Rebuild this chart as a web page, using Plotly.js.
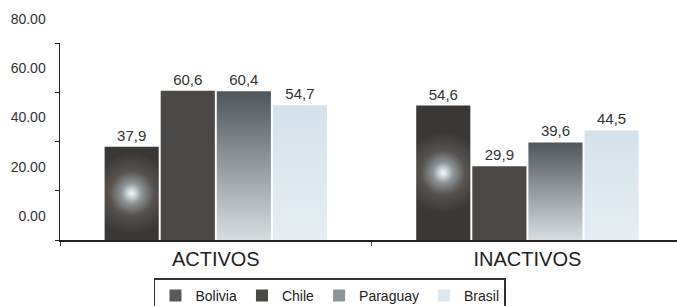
<!DOCTYPE html>
<html>
<head>
<meta charset="utf-8">
<script src="https://cdn.plot.ly/plotly-3.0.1.min.js"></script>
<style>
  html, body { margin: 0; padding: 0; background: #ffffff; }
  #chart { width: 677px; height: 306px; }
</style>
</head>
<body>
<div id="chart"></div>
<script>
// ---- data ----
const categories = ['ACTIVOS', 'INACTIVOS'];
const bolivia  = [37.9, 54.6];
const chile    = [60.6, 29.9];
const paraguay = [60.4, 39.6];
const brasil   = [54.7, 44.5];
const yTickVals  = [0, 20, 40, 60, 80];
const yTickText  = ['0.00', '20.00', '40.00', '60.00', '80.00'];

const textFont = { family: 'Arial, Liberation Sans, sans-serif', size: 15, color: '#333333' };

function barTrace(name, vals, color) {
  return {
    type: 'bar',
    name: name,
    x: categories,
    y: vals,
    marker: { color: color, line: { width: 0 } },
    texttemplate: '%{y:.1f}',
    textposition: 'outside',
    textfont: textFont,
    cliponaxis: false,
    hoverinfo: 'skip'
  };
}

const data = [
  barTrace('Bolivia', bolivia, '#5a5a5a'),
  barTrace('Chile', chile, '#4b4846'),
  barTrace('Paraguay', paraguay, '#8e9397'),
  barTrace('Brasil', brasil, '#dce7ef')
];

const layout = {
  width: 677,
  height: 306,
  margin: { l: 60, r: 0, t: 43, b: 66, pad: 0 },
  paper_bgcolor: '#ffffff',
  plot_bgcolor: '#ffffff',
  separators: ',.',
  barmode: 'group',
  bargap: 0.28,
  bargroupgap: 0.035,
  showlegend: true,
  font: { family: 'Arial, Liberation Sans, sans-serif', color: '#222222' },
  xaxis: {
    type: 'category',
    range: [-0.5, 1.48],
    showline: true,
    linecolor: '#222222',
    linewidth: 2,
    ticks: 'outside',
    tickson: 'boundaries',
    ticklen: 4,
    tickcolor: '#444444',
    showgrid: false,
    zeroline: false,
    tickfont: { family: 'Arial, Liberation Sans, sans-serif', size: 20, color: '#222222' },
    fixedrange: true
  },
  yaxis: {
    range: [0, 80],
    showline: true,
    linecolor: '#222222',
    linewidth: 1.5,
    ticks: 'outside',
    ticklen: 4,
    tickcolor: '#222222',
    tickvals: yTickVals,
    ticktext: yTickText,
    ticklabelshift: -24,
    ticklabelstandoff: 6,
    showgrid: false,
    zeroline: false,
    tickfont: { family: 'Arial, Liberation Sans, sans-serif', size: 14, color: '#333333' },
    fixedrange: true
  },
  legend: {
    orientation: 'h',
    x: 0.4376,
    xanchor: 'center',
    xref: 'paper',
    yref: 'container',
    y: 0.09,
    yanchor: 'top',
    bgcolor: '#ffffff',
    bordercolor: '#333333',
    borderwidth: 1.5,
    font: { family: 'Arial, Liberation Sans, sans-serif', size: 14, color: '#222222' },
    traceorder: 'normal'
  }
};

Plotly.newPlot('chart', data, layout, { displayModeBar: false, staticPlot: true }).then(function (gd) {
  const ns = 'http://www.w3.org/2000/svg';
  const svg = gd.querySelector('.main-svg');
  let defs = svg.querySelector('defs');
  if (!defs) { defs = document.createElementNS(ns, 'defs'); svg.insertBefore(defs, svg.firstChild); }

  function addGrad(tag, id, attrs, stops) {
    const g = document.createElementNS(ns, tag);
    g.setAttribute('id', id);
    Object.keys(attrs).forEach(k => g.setAttribute(k, attrs[k]));
    stops.forEach(s => {
      const st = document.createElementNS(ns, 'stop');
      st.setAttribute('offset', s[0]);
      st.setAttribute('stop-color', s[1]);
      g.appendChild(st);
    });
    defs.appendChild(g);
  }
  addGrad('linearGradient', 'gPar', { x1: '0', y1: '0', x2: '0', y2: '1' },
    [['0', '#4f565b'], ['0.45', '#8d9397'], ['1', '#d8dde0']]);
  addGrad('linearGradient', 'gBra', { x1: '0', y1: '0', x2: '0', y2: '1' },
    [['0', '#d5e1ea'], ['1', '#e6eef3']]);

  const traces = gd.querySelectorAll('.barlayer .trace');
  traces.forEach((t, i) => {
    t.querySelectorAll('path').forEach((p, j) => {
      if (i === 0) {
        // circular glow centred in each Bolivia bar, sized from the rendered bar
        const bb = p.getBBox();
        const id = 'gBol' + j;
        addGrad('radialGradient', id, {
          gradientUnits: 'userSpaceOnUse',
          cx: bb.x + bb.width / 2, cy: bb.y + bb.height * 0.5, r: bb.width * 0.75
        }, [['0', '#f4f9fb'], ['0.08', '#d5dde1'], ['0.25', '#8f9496'], ['0.55', '#55524f'], ['1', '#3a3837']]);
        p.style.fill = 'url(#' + id + ')';
      } else if (i === 2) {
        p.style.fill = 'url(#gPar)';
      } else if (i === 3) {
        p.style.fill = 'url(#gBra)';
      }
    });
  });
});
</script>
</body>
</html>
